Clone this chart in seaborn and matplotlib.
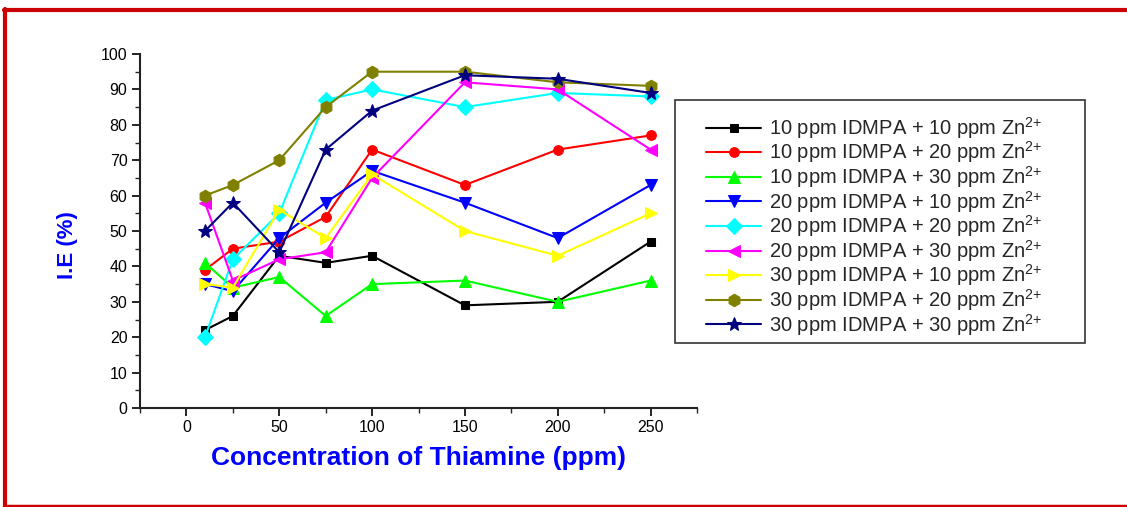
import matplotlib
matplotlib.use("Agg")
import matplotlib.pyplot as plt
from matplotlib.lines import Line2D
from matplotlib.patches import Rectangle
from matplotlib.ticker import MultipleLocator
import seaborn as sns
import pandas as pd

# Thiamine concentration (ppm)
thiamine = [10, 25, 50, 75, 100, 150, 200, 250]

# Inhibition efficiency (%) for each IDMPA + Zn2+ combination
ie_10_10 = [22, 26, 43, 41, 43, 29, 30, 47]
ie_10_20 = [39, 45, 47, 54, 73, 63, 73, 77]
ie_10_30 = [41, 34, 37, 26, 35, 36, 30, 36]
ie_20_10 = [35, 33, 48, 58, 67, 58, 48, 63]
ie_20_20 = [20, 42, 55, 87, 90, 85, 89, 88]
ie_20_30 = [58, 36, 42, 44, 65, 92, 90, 73]
ie_30_10 = [35, 34, 56, 48, 66, 50, 43, 55]
ie_30_20 = [60, 63, 70, 85, 95, 95, 92, 91]
ie_30_30 = [50, 58, 44, 73, 84, 94, 93, 89]

series_labels = [
    "10 ppm IDMPA + 10 ppm Zn$^{2{+}}$",
    "10 ppm IDMPA + 20 ppm Zn$^{2{+}}$",
    "10 ppm IDMPA + 30 ppm Zn$^{2{+}}$",
    "20 ppm IDMPA + 10 ppm Zn$^{2{+}}$",
    "20 ppm IDMPA + 20 ppm Zn$^{2{+}}$",
    "20 ppm IDMPA + 30 ppm Zn$^{2{+}}$",
    "30 ppm IDMPA + 10 ppm Zn$^{2{+}}$",
    "30 ppm IDMPA + 20 ppm Zn$^{2{+}}$",
    "30 ppm IDMPA + 30 ppm Zn$^{2{+}}$",
]
series_values = [ie_10_10, ie_10_20, ie_10_30, ie_20_10, ie_20_20,
                 ie_20_30, ie_30_10, ie_30_20, ie_30_30]

colors = ["#000000", "#FF0000", "#00FF00", "#0000FF", "#00FFFF",
          "#FF00FF", "#FFFF00", "#808000", "#000080"]
markers = ["s", "o", "^", "v", "D", "<", ">", "h", "*"]
msizes = [6, 7, 9, 9, 8, 9, 9, 9, 10]

sns.set_style("white")
plt.rcParams["font.family"] = ["Liberation Sans", "DejaVu Sans"]
plt.rcParams["mathtext.default"] = "regular"

W, H = 1127, 507
fig = plt.figure(figsize=(W / 100, H / 100), dpi=100)
ax = fig.add_axes([140 / W, 99 / H, 557 / W, 354 / H])

for lab, vals, c, m, ms in zip(series_labels, series_values, colors, markers, msizes):
    df = pd.DataFrame({"x": thiamine, "y": vals})
    sns.lineplot(data=df, x="x", y="y", ax=ax, color=c, marker=m,
                 markersize=ms, markeredgecolor=c, linewidth=1.5,
                 label=lab, legend=True)

ax.set_xlim(-25, 275)
ax.set_ylim(0, 100)
ax.xaxis.set_major_locator(MultipleLocator(50))
ax.xaxis.set_minor_locator(MultipleLocator(25))
ax.yaxis.set_major_locator(MultipleLocator(10))
ax.yaxis.set_minor_locator(MultipleLocator(5))
ax.tick_params(which="major", direction="out", length=6, width=1.2,
               labelsize=11.5, colors="black", bottom=True, left=True, pad=3)
ax.tick_params(which="minor", direction="out", length=3.5, width=1.0,
               bottom=True, left=True)
for side in ["top", "right"]:
    ax.spines[side].set_visible(False)
for side in ["left", "bottom"]:
    ax.spines[side].set_color("#222222")
    ax.spines[side].set_linewidth(1.5)

ax.set_xlabel("Concentration of Thiamine (ppm)", color="#0000FF",
              fontsize=19, fontweight="bold")
ax.set_ylabel("I.E (%)", color="#0000FF", fontsize=16, fontweight="bold")
ax.xaxis.set_label_coords(0.5, -0.108)
ax.yaxis.set_label_coords(-0.112, 0.46)

leg = ax.legend(loc="upper left", bbox_to_anchor=(706 / W, (H - 115) / H),
                bbox_transform=fig.transFigure, frameon=False,
                fontsize=14.5, handlelength=2.75, handletextpad=0.4,
                labelspacing=-0.065, borderpad=0, borderaxespad=0)

# Legend box outline
fig.add_artist(Rectangle((675 / W, (H - 343) / H), 410 / W, 243 / H,
                         transform=fig.transFigure, fill=False,
                         edgecolor="#333333", linewidth=1.2))

# Red outer frame
red = "#CC0000"
fig.add_artist(Line2D([4 / W, 1.0], [(H - 10) / H, (H - 10) / H],
                      transform=fig.transFigure, color=red, linewidth=3))
fig.add_artist(Line2D([4.5 / W, 4.5 / W], [1 / H, (H - 9) / H],
                      transform=fig.transFigure, color=red, linewidth=3))
fig.add_artist(Line2D([4 / W, 1.0], [1.5 / H, 1.5 / H],
                      transform=fig.transFigure, color=red, linewidth=2.5))

fig.savefig("out.png", dpi=100)
